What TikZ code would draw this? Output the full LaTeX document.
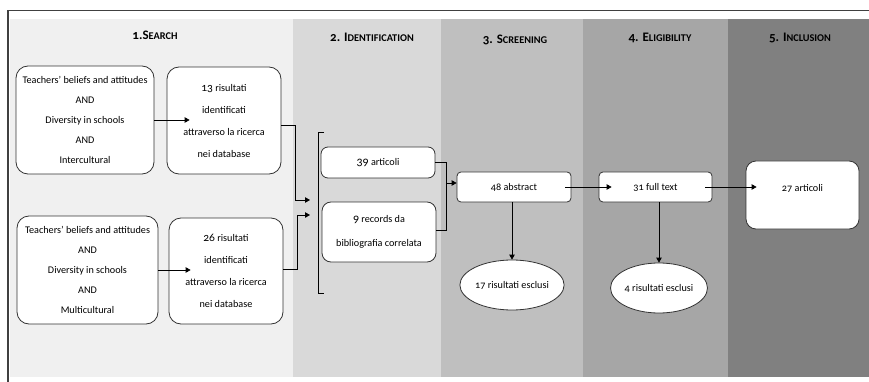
\documentclass[tikz,border=0pt]{standalone}
\usepackage{fontspec}
\setmainfont{Carlito}[Numbers=OldStyle]
\usetikzlibrary{arrows.meta,shapes.geometric}
\newcommand\mytitle[3]{{\bfseries\fontsize{13}{13}\selectfont #1#2}{\bfseries\fontsize{10.3}{13}\selectfont\MakeUppercase{#3}}}
\definecolor{bandA}{HTML}{F0F0F0}
\definecolor{bandB}{HTML}{D9D9D9}
\definecolor{bandC}{HTML}{BFBFBF}
\definecolor{bandD}{HTML}{A6A6A6}
\definecolor{bandE}{HTML}{808080}
\definecolor{edge}{HTML}{333333}
\begin{document}
\begin{tikzpicture}[x=1pt,y=-1pt,
  txt/.style={font=\fontsize{10.2}{20}\selectfont, align=center},
  qbox/.style={draw=edge, line width=0.8pt, fill=white, rounded corners=12pt, inner sep=0pt, txt},
  sbox/.style={draw=edge, line width=0.8pt, fill=white, rounded corners=4pt, inner sep=0pt, txt},
  ebox/.style={ellipse, draw=edge, line width=0.8pt, fill=white, inner sep=0pt, txt},
  ttl/.style={inner sep=0pt, anchor=base},
  conn/.style={draw=black, line width=0.8pt},
  arr/.style={conn, -{Triangle[length=5pt,width=5.5pt]}}
]
\useasboundingbox (0,0) rectangle (869,382);
\fill[white] (0,0) rectangle (869,382);
% bands
\fill[bandA] (10,19) rectangle (293,377);
\fill[bandB] (293,19) rectangle (441,377);
\fill[bandC] (441,19) rectangle (583,377);
\fill[bandD] (583,19) rectangle (728,377);
\fill[bandE] (728,19) rectangle (869,377);
\draw[line width=1.3pt, black!75] (8,382) -- (8,10.5) -- (869,10.5);
% titles
\node[ttl] (t1) at (155,40) {\mytitle{1.}{S}{earch}};
\node[ttl] (t2) at (372,42) {\mytitle{2. }{I}{dentification}};
\node[ttl] (t3) at (515,44) {\mytitle{3. }{S}{creening}};
\node[ttl] (t4) at (660,42) {\mytitle{4. }{E}{ligibility}};
\node[ttl] (t5) at (800,42) {\mytitle{5. }{I}{nclusion}};
% search boxes
\node[qbox, minimum width=138pt, minimum height=108pt] (b1) at (85,120)
  {Teachers’ beliefs and attitudes\\AND\\Diversity in schools\\AND\\Intercultural};
\node[qbox, minimum width=114pt, minimum height=107pt, font=\fontsize{10.2}{22}\selectfont] (b2) at (224,120.5)
  {{\fontsize{11.5}{12}\selectfont 13} risultati\\identificati\\attraverso la ricerca\\nei database};
\node[qbox, minimum width=141pt, minimum height=108pt] (b3) at (87.5,270)
  {Teachers’ beliefs and attitudes\\AND\\Diversity in schools\\AND\\Multicultural};
\node[qbox, minimum width=114pt, minimum height=106pt, font=\fontsize{10.2}{22}\selectfont] (b4) at (226,271)
  {{\fontsize{11.5}{12}\selectfont 26} risultati\\identificati\\attraverso la ricerca\\nei database};
% identification
\node[sbox, rounded corners=7pt, minimum width=114pt, minimum height=31pt] (b39) at (378,162.5) {{\fontsize{12}{12}\selectfont 39} articoli};
\node[sbox, rounded corners=9pt, minimum width=114pt, minimum height=60pt, font=\fontsize{10.2}{24}\selectfont] (b9) at (379,232)
  {{\fontsize{12}{12}\selectfont 9} records da\\bibliografia correlata};
% screening / eligibility / inclusion
\node[sbox, minimum width=114pt, minimum height=30pt] (b48) at (514,187) {48 abstract};
\node[sbox, minimum width=113pt, minimum height=30pt] (b31) at (655.5,187) {31 full text};
\node[sbox, rounded corners=10pt, minimum width=113pt, minimum height=68pt] (b27) at (802.5,195) {};
\node[txt, inner sep=0pt] (t27) at (802.5,188) {27 articoli};
\node[ebox, minimum width=95pt, minimum height=50pt] (e17) at (512,285) {17 risultati esclusi};
\node[ebox, minimum width=94pt, minimum height=50pt] (e4) at (659,288) {4 risultati esclusi};
% coordinates
\coordinate (v1) at (295,200);
\coordinate (j1) at (310,200);
\coordinate (v2) at (297,215);
\coordinate (j2) at (310,215);
\coordinate (bt) at (318,132);
\coordinate (bb) at (318,293);
\coordinate (v3) at (446,230);
% connectors
\draw[arr] (b1.east) -- ([xshift=23pt]b2.west |- b1.east);
\draw[arr] (b3.east) -- ([xshift=22pt]b4.west |- b3.east);
\draw[conn] ([yshift=-5pt]b2.east) -| (v1);
\draw[arr] (v1) -- (j1);
\draw[conn] ([yshift=2pt]b4.east) -| (v2);
\draw[arr] (v2) -- (j2);
\draw[conn] ([xshift=6pt]bt) -- (bt) -- (bb) -- ([xshift=6pt]bb);
\draw[conn] (b39.east) -| (v3) -- (v3 -| b9.east);
\draw[arr] ([yshift=4pt]v3 |- b48.west) -- ([yshift=4pt]b48.west);
\draw[arr] ([xshift=-6pt]b48.east) -- ([xshift=13pt]b31.west);
\draw[arr] ([xshift=-7pt]b31.east) -- ([xshift=11pt]b27.west |- b31.east);
\draw[arr] (b48.south -| e17.north) -- (e17.north);
\draw[arr] (b31.south -| e4.north) -- (e4.north);
\end{tikzpicture}
\end{document}
